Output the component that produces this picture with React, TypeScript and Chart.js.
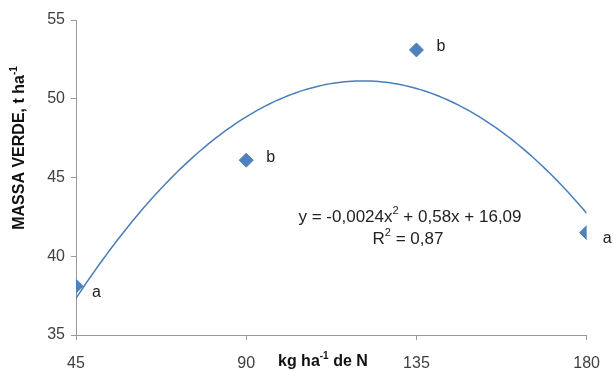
import React, { useEffect, useRef } from "react";
import { Chart, registerables } from "chart.js";

Chart.register(...registerables);

const DOSES = [45, 90, 135, 180];
const MASSA = [38.1, 46.1, 53.1, 41.5];
const LETTERS = ["a", "b", "b", "a"];
const X_TICKS = [45, 90, 135, 180];
const Y_TICKS = [35, 40, 45, 50, 55];
const TREND_COEFFS = [-0.0024, 0.58, 16.09]; // y = a x^2 + b x + c (from chart)
const EQ_TEXT = ["y = -0,0024x", "2", " + 0,58x + 16,09"];
const R2_TEXT = ["R", "2", " = 0,87"];

const FONT = "'Liberation Sans', Arial, sans-serif";

function drawSup(ctx: CanvasRenderingContext2D, parts: string[], x: number, y: number, size: number, weight: string, align: "left" | "center") {
  const measure = (t: string, sup: boolean) => {
    ctx.font = `${weight} ${sup ? Math.round(size * 0.62) : size}px ${FONT}`;
    return ctx.measureText(t).width;
  };
  let total = 0;
  parts.forEach((p, i) => (total += measure(p, i % 2 === 1)));
  let cx = align === "center" ? x - total / 2 : x;
  ctx.textAlign = "left";
  ctx.textBaseline = "middle";
  parts.forEach((p, i) => {
    const sup = i % 2 === 1;
    const w = measure(p, sup);
    ctx.fillText(p, cx, sup ? y - size * 0.33 : y);
    cx += w;
  });
}

export default function App() {
  const ref = useRef<HTMLCanvasElement | null>(null);
  useEffect(() => {
    document.body.style.margin = "0";
    const trendX: number[] = [];
    for (let x = X_TICKS[0]; x <= X_TICKS[X_TICKS.length - 1]; x += 1) trendX.push(x);
    const trend = trendX.map((x) => ({ x, y: TREND_COEFFS[0] * x * x + TREND_COEFFS[1] * x + TREND_COEFFS[2] }));

    const textPlugin = {
      id: "texts",
      afterDatasetsDraw(chart: any) {
        const ctx = chart.ctx as CanvasRenderingContext2D;
        const xs = chart.scales.x;
        const ys = chart.scales.y;
        ctx.save();
        ctx.fillStyle = "#222";
        ctx.font = `16px ${FONT}`;
        ctx.textAlign = "left";
        ctx.textBaseline = "middle";
        DOSES.forEach((d, i) => {
          const px = xs.getPixelForValue(d);
          const py = ys.getPixelForValue(MASSA[i]);
          const dy = LETTERS[i] === "a" ? 6 : -3;
          const dx = LETTERS[i] === "a" ? 16 : 20;
          ctx.fillText(LETTERS[i], px + dx, py + dy);
        });
        drawSup(ctx, EQ_TEXT, 410, 217, 17, "normal", "center");
        drawSup(ctx, R2_TEXT, 408, 239, 17, "normal", "center");
        ctx.fillStyle = "#111";
        drawSup(ctx, ["kg ha", "-1", " de N"], 278, 362, 16, "bold", "left");
        ctx.save();
        ctx.translate(20, 148);
        ctx.rotate(-Math.PI / 2);
        drawSup(ctx, ["MASSA VERDE, t ha", "-1"], 0, 0, 16, "bold", "center");
        ctx.restore();
        ctx.restore();
      },
    };

    const chart = new Chart(ref.current!, {
      type: "scatter",
      data: {
        datasets: [
          {
            type: "line",
            data: trend,
            borderColor: "#4A7EBB",
            borderWidth: 1.5,
            pointRadius: 0,
            fill: false,
          } as any,
          {
            data: DOSES.map((d, i) => ({ x: d, y: MASSA[i] })),
            pointStyle: "rectRot",
            pointRadius: 7,
            backgroundColor: "#4F81BD",
            borderColor: "#4F81BD",
          },
        ],
      },
      options: {
        animation: false,
        responsive: false,
        layout: { padding: { top: 20, right: 22, left: 0, bottom: 0 } },
        plugins: { legend: { display: false }, tooltip: { enabled: false } },
        scales: {
          x: {
            type: "linear",
            min: X_TICKS[0],
            max: X_TICKS[X_TICKS.length - 1],
            afterBuildTicks: (s: any) => {
              s.ticks = X_TICKS.map((v) => ({ value: v }));
            },
            afterFit: (s: any) => {
              s.height = 36;
            },
            grid: { drawOnChartArea: false, color: "#999", tickLength: 5 },
            border: { color: "#999" },
            ticks: { font: { family: FONT, size: 16 }, color: "#404040", padding: 14, maxRotation: 0 },
          },
          y: {
            type: "linear",
            min: Y_TICKS[0],
            max: Y_TICKS[Y_TICKS.length - 1],
            afterBuildTicks: (s: any) => {
              s.ticks = Y_TICKS.map((v) => ({ value: v }));
            },
            afterFit: (s: any) => {
              s.width = 76;
            },
            grid: { drawOnChartArea: false, color: "#999", tickLength: 5 },
            border: { color: "#999" },
            ticks: { font: { family: FONT, size: 16 }, color: "#404040", padding: 6 },
          },
        },
      },
      plugins: [textPlugin],
    });
    return () => chart.destroy();
  }, []);
  return (
    <div style={{ position: "fixed", left: 0, top: 0, width: 614, height: 371, background: "#fff" }}>
      <canvas ref={ref} width={614} height={371} />
    </div>
  );
}
